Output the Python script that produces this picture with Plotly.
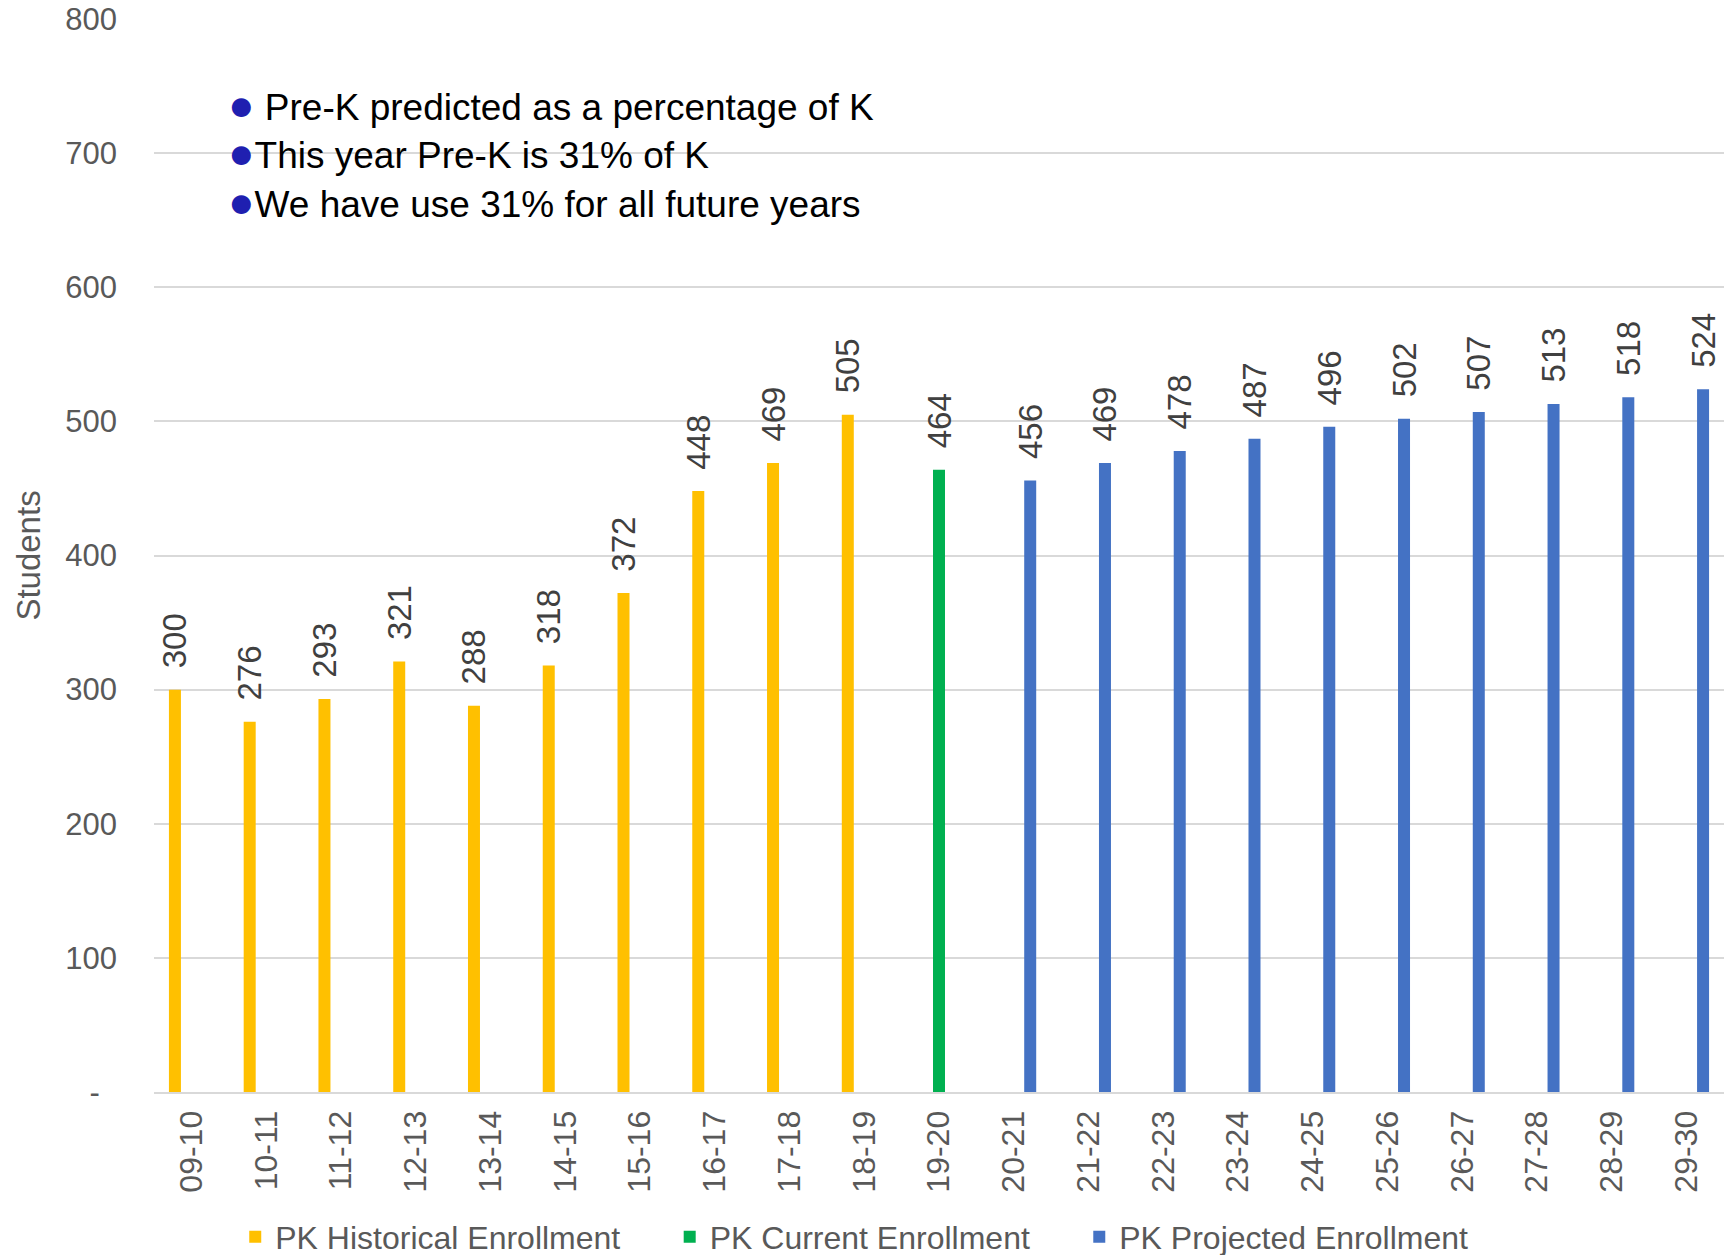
import plotly.graph_objects as go

categories = ["09-10", "10-11", "11-12", "12-13", "13-14", "14-15", "15-16", "16-17",
              "17-18", "18-19", "19-20", "20-21", "21-22", "22-23", "23-24", "24-25",
              "25-26", "26-27", "27-28", "28-29", "29-30"]
historical = [300, 276, 293, 321, 288, 318, 372, 448, 469, 505,
              None, None, None, None, None, None, None, None, None, None, None]
current = [None] * 10 + [464] + [None] * 10
projected = [None] * 11 + [456, 469, 478, 487, 496, 502, 507, 513, 518, 524]

y_tickvals = [0, 100, 200, 300, 400, 500, 600, 700, 800]
y_ticktext = ["-\u00a0\u00a0", "100", "200", "300", "400", "500", "600", "700", "800"]

notes = ["\u00a0Pre-K predicted as a percentage of K",
         "This year Pre-K is 31% of K",
         "We have use 31% for all future years"]

PAD = "\u00a0" * 5
series = [
    ("PK Historical Enrollment" + PAD, historical, "#FFC000"),
    ("PK Current Enrollment" + PAD, current, "#00B050"),
    ("PK Projected Enrollment", projected, "#4472C4"),
]

FONT = "Liberation Sans, Arial, sans-serif"

fig = go.Figure()
for name, vals, color in series:
    fig.add_trace(go.Bar(
        x=categories, y=vals, name=name,
        marker=dict(color=color, line=dict(width=0)),
        texttemplate="\u00a0\u00a0%{y}", textposition="outside",
        textangle=-90, constraintext="none", cliponaxis=False,
        textfont=dict(family=FONT, size=33, color="#404040"),
    ))

annotations = []
W, H = 1724, 1255
pl, pr, pt, pb = 154, 0, 19, 163
ph = H - pt - pb
pw = W - pl - pr
line_y = [104, 153, 202]
for txt, ly in zip(notes, line_y):
    annotations.append(dict(
        xref="paper", yref="paper",
        x=(226 - pl) / pw, y=(H - pb - ly) / ph,
        xanchor="left", yanchor="middle", showarrow=False,
        text="<span style='color:#1f1fb0;font-size:44px'>●</span>" + txt,
        font=dict(family=FONT, size=37, color="#000000"),
    ))

fig.update_layout(
    width=W, height=H,
    margin=dict(l=pl, r=pr, t=pt, b=pb, pad=0),
    paper_bgcolor="white", plot_bgcolor="white",
    barmode="group", bargap=0.34, bargroupgap=0.27,
    font=dict(family=FONT, color="#595959"),
    showlegend=True,
    legend=dict(orientation="h", xref="container", yref="container",
                x=0.4955, xanchor="center", y=(1255 - 1237) / 1255, yanchor="middle",
                font=dict(family=FONT, size=32, color="#595959"),
                itemwidth=30, tracegroupgap=0),
    annotations=annotations,
    xaxis=dict(
        type="category", tickangle=-90, showgrid=False,
        tickfont=dict(family=FONT, size=32, color="#595959"),
        showline=True, linecolor="#d9d9d9", linewidth=2,
        ticks="", ticklabelstandoff=4,
    ),
    yaxis=dict(
        range=[0, 800], tickvals=y_tickvals, ticktext=y_ticktext,
        showgrid=True, gridcolor="#d9d9d9", gridwidth=1.5,
        zeroline=False, showline=False,
        tickfont=dict(family=FONT, size=31, color="#595959"),
        ticklabelstandoff=36,
        title=dict(text="Students", standoff=14,
                   font=dict(family=FONT, size=33, color="#595959")),
    ),
)

fig.write_html("out.html", config={"displayModeBar": False},
               post_script="document.body.style.margin='0';document.body.style.padding='0';")
